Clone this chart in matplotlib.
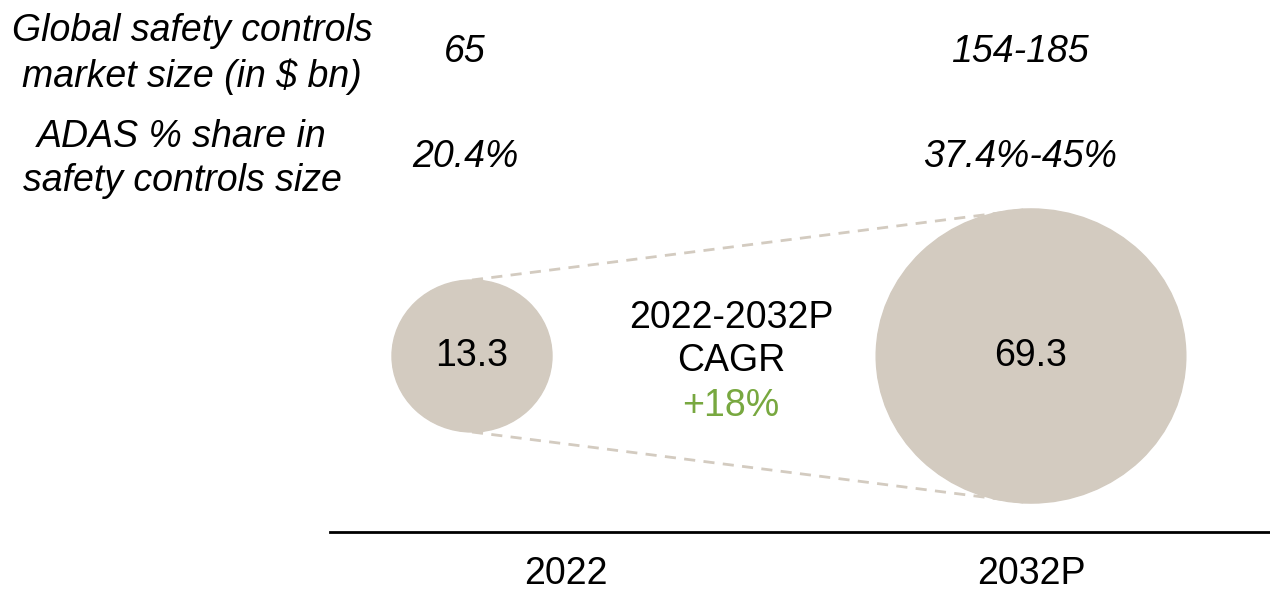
import matplotlib.pyplot as plt
from matplotlib.patches import Ellipse

plt.rcParams['font.family'] = ['Liberation Sans', 'DejaVu Sans']

years = ['2022', '2032P']
adas_size = [13.3, 69.3]
market_size = ['65', '154-185']
adas_share = ['20.4%', '37.4%-45%']
cagr = '+18%'

circle_x = [472, 1031]
label_x = [566, 1031]
top_x = [465, 1020]
cy = 356
fill = '#d3cbc0'
fs = 27

fig = plt.figure(figsize=(12.7, 5.9), dpi=100)
ax = fig.add_axes([0, 0, 1, 1])
ax.set_xlim(0, 1270)
ax.set_ylim(590, 0)
ax.axis('off')

# radius grows sub-linearly with value; slight vertical squash as in source
radii = [80 * (v / adas_size[0]) ** 0.4 for v in adas_size]
squash = 0.95

for x, r, v in zip(circle_x, radii, adas_size):
    ax.add_patch(Ellipse((x, cy), 2 * r, 2 * r * squash, color=fill, zorder=2))
    ax.text(x, cy, f'{v}', ha='center', va='center', fontsize=fs, zorder=3)

# dashed connectors
ax.plot([circle_x[0], circle_x[1]], [cy - radii[0] * squash, cy - radii[1] * squash],
        ls=(0, (4, 3)), color=fill, lw=2, zorder=1)
ax.plot([circle_x[0], circle_x[1]], [cy + radii[0] * squash, cy + radii[1] * squash],
        ls=(0, (4, 3)), color=fill, lw=2, zorder=1)

ax.text(731, 318, '2022-2032P', ha='center', va='center', fontsize=fs)
ax.text(731, 361, 'CAGR', ha='center', va='center', fontsize=fs)
ax.text(731, 406, cagr, ha='center', va='center', fontsize=fs, color='#78a840')

# axis baseline + labels
ax.plot([330, 1270], [532, 532], color='black', lw=2)
for x, y in zip(label_x, years):
    ax.text(x, 574, y, ha='center', va='center', fontsize=fs)

# header rows
ax.text(192, 54, 'Global safety controls\nmarket size (in $ bn)', ha='center', va='center',
        fontsize=fs, style='italic', linespacing=1.3)
ax.text(182, 159, 'ADAS % share in\nsafety controls size', ha='center', va='center',
        fontsize=fs, style='italic', linespacing=1.3)
for x, m, s in zip(top_x, market_size, adas_share):
    ax.text(x, 52, m, ha='center', va='center', fontsize=fs, style='italic')
    ax.text(x, 157, s, ha='center', va='center', fontsize=fs, style='italic')

fig.savefig('out.png', dpi=100)
